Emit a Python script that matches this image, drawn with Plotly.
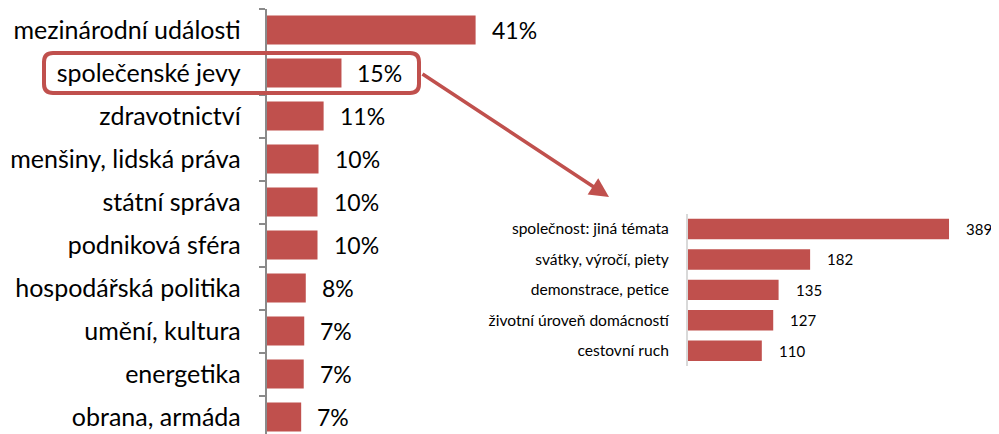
import plotly.graph_objects as go

# main chart: share of topics (%)
topics = ["mezinárodní události", "společenské jevy", "zdravotnictví",
          "menšiny, lidská práva", "státní správa", "podniková sféra",
          "hospodářská politika", "umění, kultura", "energetika", "obrana, armáda"]
topic_share = [41.0, 14.7, 11.2, 10.2, 10.0, 10.0, 7.7, 7.4, 7.3, 6.8]

# detail chart: breakdown of "společenské jevy" (counts)
detail_topics = ["společnost: jiná témata", "svátky, výročí, piety",
                 "demonstrace, petice", "životní úroveň domácností", "cestovní ruch"]
detail_counts = [389, 182, 135, 127, 110]

RED = "#C0504D"
FONT = "Lato"
W, H = 999, 434
OFF = 8  # the page body adds an 8px margin; layout is measured in page pixels


def px(x):
    return (x - OFF) / W


def py(y):
    return 1 - (y - OFF) / H


fig = go.Figure()
fig.add_trace(go.Bar(x=topic_share, y=topics, orientation="h", marker_color=RED,
                     marker_line_width=0, xaxis="x", yaxis="y", hoverinfo="x+y"))
fig.add_trace(go.Bar(x=detail_counts, y=detail_topics, orientation="h", marker_color=RED,
                     marker_line_width=0, xaxis="x2", yaxis="y2", hoverinfo="x+y"))

# value labels next to the bars
ann = []
for t, v in zip(topics, topic_share):
    ann.append(dict(x=v, y=t, xref="x", yref="y", text=f"{v:.0f}%", showarrow=False,
                    xanchor="left", xshift=14, font=dict(size=23, color="#000")))
for t, v in zip(detail_topics, detail_counts):
    ann.append(dict(x=v, y=t, xref="x2", yref="y2", text=str(v), showarrow=False,
                    xanchor="left", xshift=15, font=dict(size=15, color="#000")))

# arrow from the highlighted row to the detail chart
ann.append(dict(x=px(609), y=py(197), xref="paper", yref="paper",
                ax=421 - 609, ay=73 - 197, axref="pixel", ayref="pixel",
                showarrow=True, arrowhead=2, arrowsize=1.1, arrowwidth=3.5,
                arrowcolor=RED, text=""))

# left chart geometry (page pixels): axis at 266, 5.1 px per %, rows of 43 px from y=8.5
left_top, row_h = 8.5, 43
left_range_bottom = -0.5 + (H + OFF - left_top) / row_h
x0_px, px_per_pct, x1_px = 266.5, 5.1, 600

# detail chart geometry (page pixels)
d_x0, d_scale = 688, 0.671
d_top, d_bot = 213.75, 366

fig.update_layout(
    width=W, height=H,
    margin=dict(l=0, r=0, t=0, b=0),
    paper_bgcolor="white", plot_bgcolor="rgba(0,0,0,0)",
    font=dict(family=FONT, color="#000"),
    showlegend=False,
    bargap=0.33,
    annotations=ann,
    xaxis=dict(domain=[px(x0_px), px(x1_px)], range=[0, (x1_px - x0_px) / px_per_pct],
               visible=False, fixedrange=True, automargin=False),
    yaxis=dict(domain=[0, py(left_top)], range=[left_range_bottom, -0.5],
               type="category", categoryorder="array", categoryarray=topics,
               showline=True, linecolor="#8a8a8a", linewidth=1.5,
               ticks="outside", tickson="boundaries", ticklen=6, tickcolor="#8a8a8a",
               tickwidth=1.5, ticklabelstandoff=19, automargin=False,
               tickfont=dict(size=25, color="#000"), showgrid=False, anchor="x"),
    xaxis2=dict(domain=[px(d_x0), 1], range=[0, (W + OFF - d_x0) / d_scale],
                visible=False, fixedrange=True, automargin=False),
    yaxis2=dict(domain=[py(d_bot), py(d_top)], range=[4.5, -0.5],
                type="category", categoryorder="array", categoryarray=detail_topics,
                showline=True, linecolor="#d9d9d9", linewidth=2,
                ticks="", ticklabelstandoff=14, automargin=False,
                tickfont=dict(size=15.6, color="#000"), showgrid=False, anchor="x2"),
)

# rounded highlight box around "společenské jevy"
l, r, t, b, rad = 44, 419, 53, 93, 9
path = (f"M {px(l + rad)} {py(t)} L {px(r - rad)} {py(t)} Q {px(r)} {py(t)} {px(r)} {py(t + rad)} "
        f"L {px(r)} {py(b - rad)} Q {px(r)} {py(b)} {px(r - rad)} {py(b)} "
        f"L {px(l + rad)} {py(b)} Q {px(l)} {py(b)} {px(l)} {py(b - rad)} "
        f"L {px(l)} {py(t + rad)} Q {px(l)} {py(t)} {px(l + rad)} {py(t)} Z")
fig.add_shape(type="path", path=path, xref="paper", yref="paper",
              line=dict(color=RED, width=4), fillcolor="rgba(0,0,0,0)")

fig.write_html("out.html")
